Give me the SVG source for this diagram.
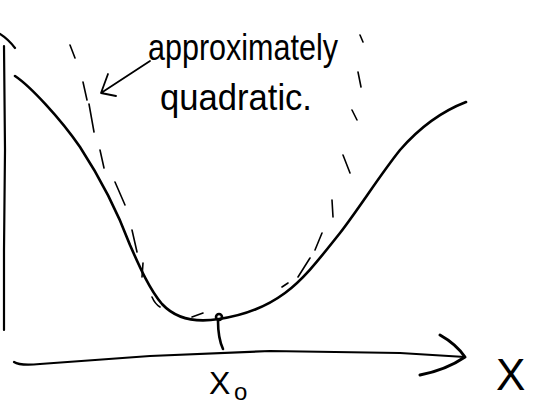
<svg xmlns="http://www.w3.org/2000/svg" width="540" height="411" viewBox="0 0 540 411">
<style>
.ink{fill:none;stroke:#000;stroke-linecap:round;stroke-linejoin:round}
.hand{font-family:"Liberation Sans","DejaVu Sans",sans-serif;fill:#000}
</style>
<rect width="540" height="411" fill="#fff"/>
<g id="axes" class="ink" stroke-width="2.2">
<path d="M0,34 Q8,39 15,48"/>
<path d="M4,46 L5,150 L4,250 L4,330"/>
<path d="M14,362 Q20,366 40,364 L150,356 L270,351 L400,353 L465,357"/>
<path d="M440,335 Q456,344 465,357 Q446,370 420,375" stroke-width="3"/>
</g>
<g id="curve" class="ink" stroke-width="2.6">
<path d="M15,76 C30,86 60,118 80,147 C95,170 115,205 130,245 C140,268 150,290 162,304 C175,318 195,323 219,319 C240,316 262,310 285,293 C305,278 320,258 340,233 C360,207 380,175 400,150 C420,127 440,112 466,102"/>
<path d="M218,321 Q218,338 223,349"/>
<circle cx="219" cy="317" r="3"/>
</g>
<g id="parabola" class="ink" stroke-width="1.6">
<path d="M70,45 L75,58 M83,82 L87,100 M89,104 L94,132 M100,150 L104,168 M115,182 L125,205 M132,230 L137,252 M143,263 L142,277 M152,297 Q155,304 160,307 M192,317 L203,313 M282,287 L288,283 M298,277 L310,258 M315,250 L322,233 M332,200 L333,217 M343,155 L350,173 M352,110 L357,120 M358,72 L361,87 M360,35 L363,42"/>
</g>
<g id="pointer" class="ink" stroke-width="1.8">
<path d="M150,61 L101,93 M108,74 L101,93 L116,96"/>
</g>
<g id="labels">
<text class="hand" x="148" y="60" font-size="36" textLength="190" lengthAdjust="spacingAndGlyphs">approximately</text>
<text class="hand" x="160" y="110" font-size="36" textLength="152" lengthAdjust="spacingAndGlyphs">quadratic.</text>
<text class="hand" x="209" y="394" font-size="32">X</text>
<text class="hand" x="234" y="400" font-size="24">o</text>
<text class="hand" x="496" y="390" font-size="44">X</text>
</g>
</svg>
